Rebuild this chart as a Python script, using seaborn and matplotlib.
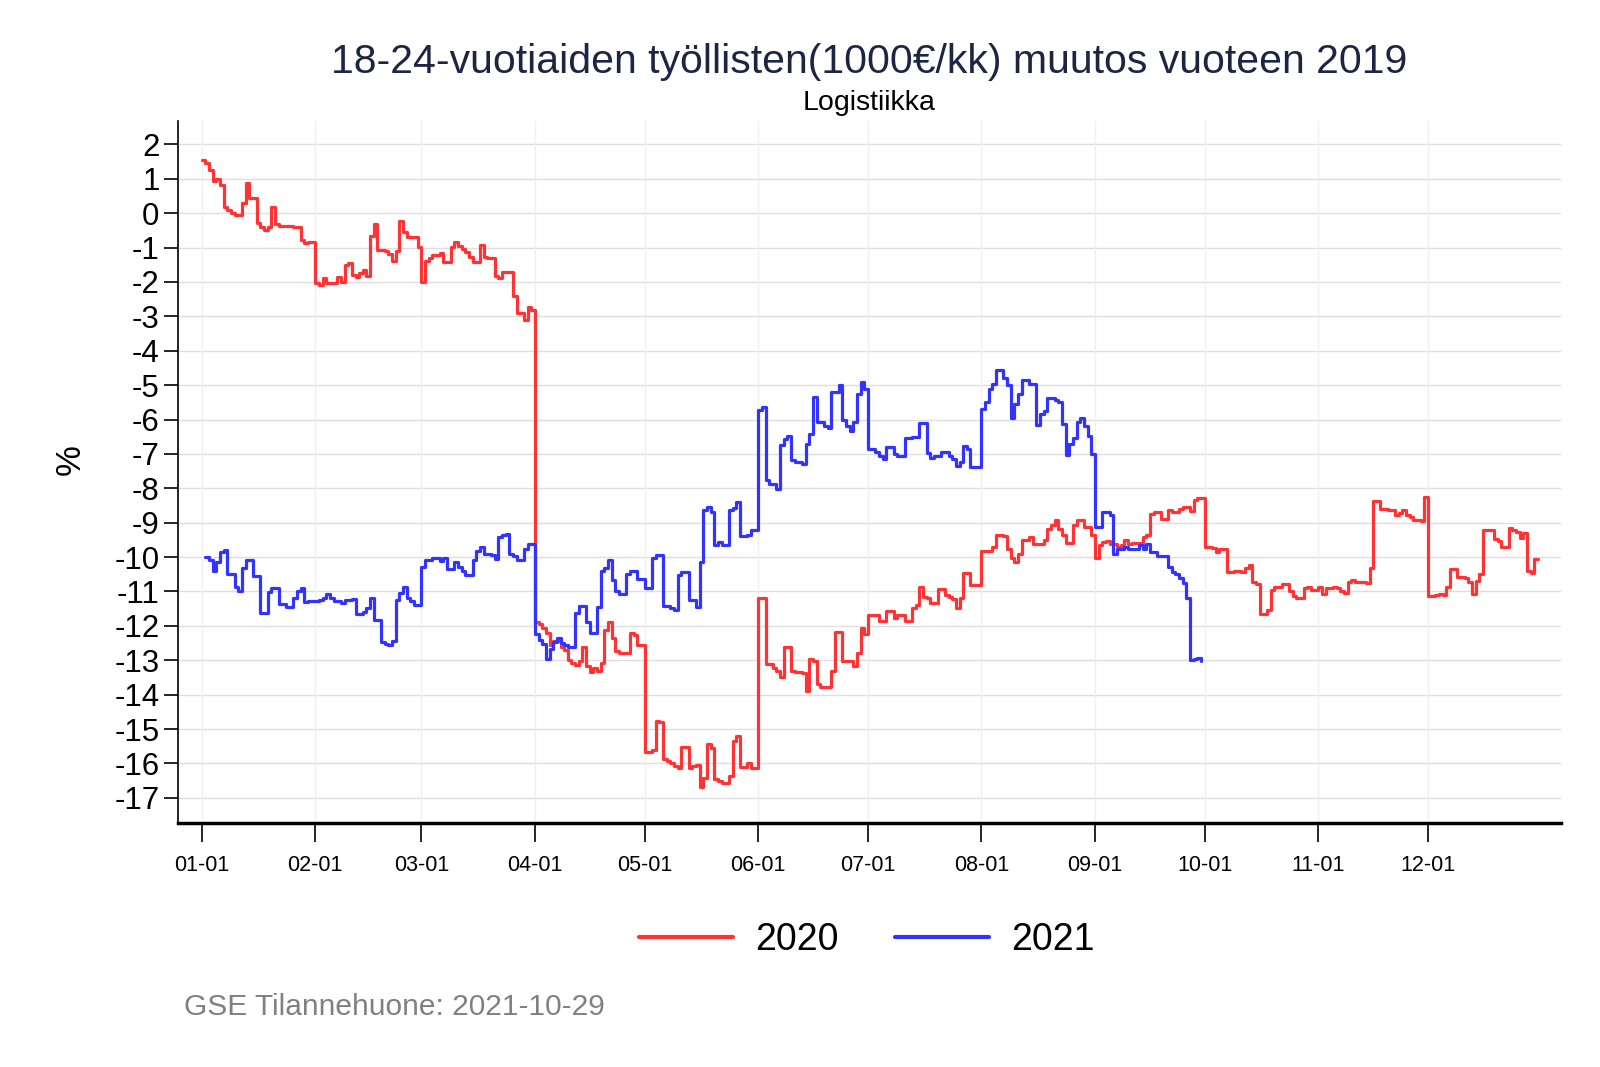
import pandas as pd
import matplotlib.pyplot as plt
import matplotlib.dates as mdates
from matplotlib.lines import Line2D
import seaborn as sns

# day offsets from Jan 1 (both years drawn on a 2020 calendar) where the value changes
days_2020 = [0, 1, 2, 3, 4, 5, 6, 7, 8, 9, 11, 12, 13, 15, 16, 17, 18, 19, 20, 21,
             25, 27, 28, 29, 31, 32, 33, 34, 37, 38, 39, 40, 41, 42, 43, 44, 45, 46, 47, 48,
             50, 51, 52, 53, 54, 55, 56, 59, 60, 61, 62, 63, 65, 66, 68, 69, 70, 71, 72, 73,
             74, 76, 77, 78, 80, 81, 82, 85, 86, 88, 89, 90, 91, 92, 93, 94, 95, 96, 98, 99,
             100, 101, 102, 103, 104, 105, 106, 107, 108, 109, 110, 111, 112, 113, 114, 117, 118, 119, 121, 123,
             124, 125, 126, 127, 128, 129, 130, 131, 133, 134, 135, 136, 137, 138, 139, 140, 141, 142, 144, 145,
             146, 147, 149, 150, 152, 154, 156, 157, 158, 159, 161, 162, 164, 165, 166, 167, 168, 169, 172, 173,
             175, 178, 179, 180, 181, 182, 185, 187, 189, 190, 192, 194, 195, 196, 197, 198, 199, 201, 203, 204,
             205, 206, 207, 208, 210, 213, 216, 217, 219, 220, 221, 222, 223, 224, 226, 227, 230, 231, 232, 233,
             234, 235, 236, 238, 239, 241, 243, 244, 245, 246, 247, 248, 250, 251, 252, 253, 254, 257, 258, 259,
             260, 262, 264, 265, 267, 268, 270, 271, 272, 274, 276, 277, 278, 280, 282, 284, 285, 286, 287, 288,
             289, 291, 292, 293, 295, 297, 298, 299, 301, 302, 303, 305, 306, 307, 309, 310, 311, 312, 313, 314,
             315, 318, 319, 320, 322, 324, 326, 327, 328, 329, 330, 331, 333, 334, 335, 337, 338, 339, 340, 341,
             343, 345, 346, 347, 348, 349, 350, 353, 354, 355, 357, 358, 359, 360, 361, 362, 363, 364, 365]
vals_2020 = [1.56, 1.47, 1.25, 0.94, 1.0, 0.82, 0.19, 0.09, 0.01, -0.05, 0.31, 0.87, 0.45, -0.29, -0.41, -0.49, -0.39, 0.17, -0.31, -0.36,
             -0.41, -0.78, -0.86, -0.83, -2.02, -2.09, -1.89, -2.02, -1.86, -1.99, -1.5, -1.44, -1.79, -1.86, -1.73, -1.65, -1.82, -0.66, -0.32, -1.07,
             -1.1, -1.18, -1.39, -1.09, -0.22, -0.54, -0.68, -0.97, -1.99, -1.39, -1.31, -1.23, -1.17, -1.43, -0.97, -0.83, -0.94, -1.05, -1.12, -1.26,
             -1.41, -0.92, -1.26, -1.31, -1.82, -1.89, -1.7, -2.42, -2.89, -3.1, -2.73, -2.81, -11.89, -11.95, -12.07, -12.21, -12.55, -12.43, -12.6, -12.69,
             -12.98, -13.08, -13.13, -13.01, -12.6, -13.18, -13.34, -13.22, -13.32, -13.08, -12.11, -11.89, -12.36, -12.72, -12.79, -12.21, -12.26, -12.55, -15.68, -15.61,
             -14.76, -14.8, -15.88, -15.93, -15.98, -16.07, -16.14, -15.52, -16.12, -16.07, -16.04, -16.69, -16.43, -15.44, -15.56, -16.46, -16.51, -16.56, -16.37, -15.34,
             -15.2, -16.1, -16.0, -16.12, -11.18, -13.11, -13.22, -13.32, -13.49, -12.6, -13.3, -13.34, -13.37, -13.88, -12.95, -13.03, -13.69, -13.78, -13.32, -12.18,
             -13.01, -13.18, -12.79, -12.07, -12.24, -11.68, -11.87, -11.58, -11.76, -11.68, -11.87, -11.47, -11.39, -10.86, -11.15, -11.2, -11.34, -10.93, -11.1, -11.15,
             -11.22, -11.49, -11.2, -10.46, -10.81, -9.83, -9.71, -9.35, -9.39, -9.75, -10.04, -10.14, -9.9, -9.51, -9.42, -9.61, -9.51, -9.18, -9.08, -8.93,
             -9.18, -9.37, -9.58, -9.08, -8.93, -9.13, -9.37, -10.02, -9.66, -9.56, -9.54, -9.61, -9.71, -9.66, -9.51, -9.61, -9.58, -9.42, -9.37, -8.74,
             -8.69, -8.9, -8.64, -8.69, -8.6, -8.55, -8.67, -8.33, -8.29, -9.7, -9.73, -9.85, -9.77, -10.44, -10.4, -10.44, -10.31, -10.23, -10.71, -10.79,
             -11.65, -11.53, -10.95, -10.86, -10.79, -11.0, -11.12, -11.19, -10.9, -10.86, -10.95, -10.86, -11.08, -10.9, -10.86, -10.9, -11.0, -11.05, -10.71, -10.66,
             -10.71, -10.76, -10.33, -8.38, -8.6, -8.64, -8.79, -8.71, -8.62, -8.79, -8.84, -8.93, -8.96, -8.26, -11.12, -11.1, -11.08, -11.1, -10.88, -10.35,
             -10.57, -10.6, -10.73, -11.08, -10.69, -10.5, -9.21, -9.47, -9.53, -9.7, -9.16, -9.21, -9.26, -9.43, -9.29, -10.4, -10.47, -10.05, -10.05]

days_2021 = [1, 2, 3, 4, 5, 6, 7, 9, 10, 11, 12, 14, 16, 18, 19, 21, 23, 25, 26, 27,
             28, 29, 32, 33, 34, 35, 36, 38, 39, 41, 42, 44, 45, 46, 47, 49, 50, 51, 52, 53,
             54, 55, 56, 57, 58, 60, 61, 63, 65, 66, 67, 69, 70, 71, 72, 74, 75, 76, 77, 79,
             80, 81, 82, 83, 84, 85, 86, 88, 89, 91, 92, 93, 94, 95, 96, 97, 98, 99, 100, 102,
             103, 105, 106, 108, 109, 110, 111, 112, 113, 114, 116, 117, 119, 121, 123, 124, 126, 128, 129, 130,
             131, 133, 135, 136, 137, 138, 139, 140, 141, 142, 144, 145, 146, 147, 149, 150, 152, 153, 154, 155,
             157, 158, 159, 160, 161, 162, 164, 165, 166, 167, 168, 170, 171, 172, 174, 175, 176, 177, 178, 179,
             180, 181, 182, 184, 185, 186, 187, 189, 190, 192, 194, 196, 198, 199, 200, 202, 204, 205, 206, 207,
             208, 209, 210, 213, 214, 215, 216, 217, 219, 220, 221, 222, 223, 224, 226, 228, 229, 230, 231, 233,
             234, 235, 236, 237, 238, 239, 240, 241, 242, 243, 244, 246, 248, 249, 250, 252, 253, 256, 257, 258,
             259, 261, 264, 265, 266, 267, 268, 269, 270, 271, 272, 273]
vals_2021 = [-9.99, -10.09, -10.41, -10.14, -9.85, -9.8, -10.5, -10.86, -10.99, -10.31, -10.09, -10.54, -11.63, -11.02, -10.89, -11.37, -11.44, -11.18, -11.0, -10.89,
             -11.31, -11.27, -11.25, -11.18, -11.08, -11.2, -11.27, -11.34, -11.25, -11.22, -11.66, -11.6, -11.49, -11.18, -11.82, -12.47, -12.53, -12.57, -12.45, -11.25,
             -11.05, -10.86, -11.2, -11.29, -11.39, -10.28, -10.09, -10.02, -10.12, -10.02, -10.35, -10.14, -10.28, -10.41, -10.52, -10.09, -9.83, -9.7, -9.9, -9.94,
             -10.06, -9.41, -9.35, -9.32, -9.9, -9.96, -10.09, -9.77, -9.61, -12.24, -12.4, -12.53, -12.95, -12.66, -12.47, -12.36, -12.5, -12.57, -12.62, -11.63,
             -11.41, -11.89, -12.21, -11.44, -10.41, -10.31, -10.09, -10.67, -10.99, -11.08, -10.48, -10.41, -10.65, -10.91, -10.02, -9.93, -11.41, -11.49, -11.54, -10.52,
             -10.43, -11.25, -11.44, -10.14, -8.64, -8.55, -8.69, -9.66, -9.56, -9.64, -8.64, -8.57, -8.4, -9.39, -9.37, -9.22, -5.71, -5.64, -7.77, -7.87,
             -8.03, -6.74, -6.58, -6.47, -7.19, -7.24, -7.29, -6.71, -6.42, -5.35, -6.08, -6.18, -6.25, -5.19, -5.0, -6.0, -6.2, -6.32, -6.06, -5.26,
             -4.92, -5.11, -6.85, -6.95, -7.07, -7.14, -6.8, -7.0, -7.07, -6.54, -6.51, -6.1, -6.97, -7.12, -7.07, -6.95, -7.07, -7.16, -7.34, -7.24,
             -6.76, -6.87, -7.38, -5.69, -5.48, -5.11, -4.97, -4.55, -4.8, -5.0, -5.96, -5.55, -5.26, -4.84, -4.97, -6.16, -5.84, -5.74, -5.38, -5.42,
             -5.5, -6.13, -7.03, -6.71, -6.54, -6.06, -5.96, -6.2, -6.49, -7.0, -9.13, -8.69, -8.79, -9.9, -9.77, -9.71, -9.77, -9.66, -9.77, -9.61,
             -9.85, -9.97, -10.28, -10.43, -10.5, -10.6, -10.74, -11.2, -13.0, -12.97, -12.93, -13.03]

years = ["2020", "2021"]
colors = {"2020": "#ff3333", "2021": "#3333ff"}
y_ticks = list(range(2, -18, -1))
month_starts = pd.date_range("2020-01-01", "2020-12-01", freq="MS")

start = pd.Timestamp("2020-01-01")
df = pd.concat([
    pd.DataFrame({"date": start + pd.to_timedelta(days_2020, unit="D"), "value": vals_2020, "year": "2020"}),
    pd.DataFrame({"date": start + pd.to_timedelta(days_2021, unit="D"), "value": vals_2021, "year": "2021"}),
])

sns.set_theme(style="white")
plt.rcParams["font.family"] = ["Liberation Sans", "DejaVu Sans"]
plt.rcParams["axes.unicode_minus"] = False
plt.rcParams["text.color"] = "black"
plt.rcParams["xtick.color"] = "black"
plt.rcParams["ytick.color"] = "black"

fig = plt.figure(figsize=(16, 10.67), dpi=100)
ax = fig.add_axes([0.111, 0.2284, 0.8646, 0.6585])

sns.lineplot(data=df, x="date", y="value", hue="year", palette=colors, hue_order=years,
             drawstyle="steps-post", estimator=None, linewidth=2.3, legend=False, ax=ax)

ax.set_xlim(start - pd.Timedelta(days=6.6), start + pd.Timedelta(days=371.3))
ax.set_ylim(-17.74, 2.69)
ax.set_xticks(month_starts)
ax.xaxis.set_major_formatter(mdates.DateFormatter("%m-%d"))
ax.set_yticks(y_ticks)
ax.set_xlabel("")
ax.set_ylabel("")

for y in y_ticks:
    ax.axhline(y, color="#dedede", lw=1.0, zorder=0)
for m in month_starts:
    ax.axvline(m, color="#f0f0f0", lw=1.0, zorder=0)

for side in ["top", "right"]:
    ax.spines[side].set_visible(False)
ax.spines["left"].set_color("black")
ax.spines["left"].set_linewidth(1.2)
ax.spines["bottom"].set_color("black")
ax.spines["bottom"].set_linewidth(2.5)

ax.tick_params(axis="y", direction="out", length=10, width=1.2, colors="black",
               labelsize=22.5, pad=3, left=True)
ax.tick_params(axis="x", direction="out", length=14, width=1.2, colors="black",
               labelsize=15.5, pad=9, bottom=True)

fig.text(0.543, 0.942, "18-24-vuotiaiden työllisten(1000€/kk) muutos vuoteen 2019",
         ha="center", va="center", fontsize=29.5, color="#1c2642")
fig.text(0.543, 0.9035, "Logistiikka", ha="center", va="center", fontsize=20.5, color="black")
fig.text(0.044, 0.569, "%", rotation=90, ha="center", va="center", fontsize=25, color="black")

handles = [Line2D([0], [0], color=colors[y], lw=3) for y in years]
leg = fig.legend(handles, years, loc="center", bbox_to_anchor=(0.542, 0.119), ncol=2,
                 frameon=False, fontsize=27, handlelength=2.5, handletextpad=0.6, columnspacing=1.5)
for t in leg.get_texts():
    t.set_color("black")

fig.text(0.115, 0.0565, "GSE Tilannehuone: 2021-10-29", ha="left", va="center",
         fontsize=21.5, color="#808080")

fig.savefig("out.png", dpi=100)
